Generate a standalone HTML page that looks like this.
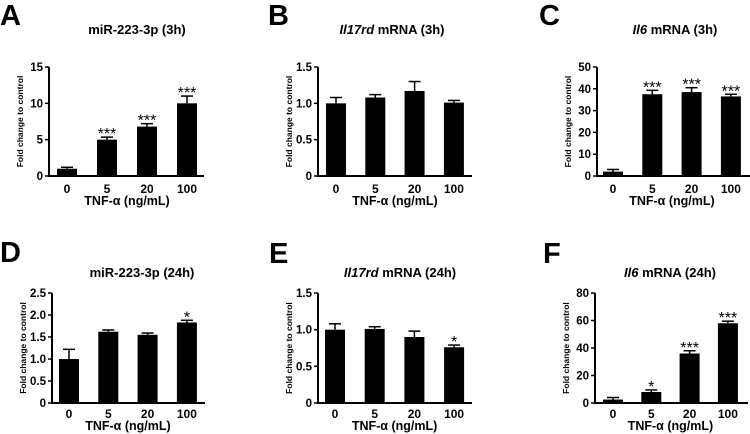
<!DOCTYPE html>
<html><head><meta charset="utf-8"><style>
html,body{margin:0;padding:0;background:#fff;}
svg{display:block;font-family:"Liberation Sans",Arial,sans-serif;}
</style></head><body>
<svg id="fig" width="750" height="434" viewBox="0 0 750 434"></svg>
<script>
const categories = ["0","5","20","100"];
const valsA = [1.0,5.0,6.8,10.0], errA=[0.2,0.35,0.4,1.0], sigA=["","***","***","***"], ticksA=[0,5,10,15];
const valsB = [1.0,1.08,1.17,1.01], errB=[0.08,0.04,0.13,0.03], sigB=["","","",""], ticksB=["0","0.5","1.0","1.5"];
const valsC = [2.0,37.5,38.5,36.5], errC=[1.0,1.8,2.0,1.0], sigC=["","***","***","***"], ticksC=[0,10,20,30,40,50];
const valsD = [1.0,1.62,1.55,1.83], errD=[0.22,0.04,0.04,0.05], sigD=["","","","*"], ticksD=["0","0.5","1.0","1.5","2.0","2.5"];
const valsE = [1.0,1.01,0.9,0.76], errE=[0.08,0.03,0.08,0.03], sigE=["","","","*"], ticksE=["0","0.5","1.0","1.5"];
const valsF = [2.5,8.0,36.0,58.0], errF=[1.5,1.5,2.0,1.5], sigF=["","*","***","***"], ticksF=[0,20,40,60,80];

const NS="http://www.w3.org/2000/svg";
const svg=document.getElementById('fig');
function mk(tag,attrs,parent,text){const e=document.createElementNS(NS,tag);for(const k in attrs)e.setAttribute(k,attrs[k]);if(text!==undefined)e.textContent=text;(parent||svg).appendChild(e);return e;}

const panels=[
 {id:"a",letter:"A",lx:0,ly:25,title:["","miR-223-3p (3h)"],tx:137,ty:34,ax:49,top:67,zero:176,right:204,c0:67,step:40,vals:valsA,err:errA,sig:sigA,ticks:ticksA,tk:193,xt:205},
 {id:"b",letter:"B",lx:268,ly:25,title:["Il17rd"," mRNA (3h)"],tx:392,ty:34,ax:318,top:67,zero:176,right:472,c0:336,step:39.3,vals:valsB,err:errB,sig:sigB,ticks:ticksB,tk:193,xt:205},
 {id:"c",letter:"C",lx:539,ly:25,title:["Il6"," mRNA (3h)"],tx:675,ty:34,ax:597,top:67,zero:176,right:750,c0:613,step:39.3,vals:valsC,err:errC,sig:sigC,ticks:ticksC,tk:193,xt:205},
 {id:"d",letter:"D",lx:0,ly:262,title:["","miR-223-3p (24h)"],tx:142,ty:277,ax:52,top:293,zero:403,right:205,c0:69,step:39.3,vals:valsD,err:errD,sig:sigD,ticks:ticksD,tk:418,xt:430},
 {id:"e",letter:"E",lx:269,ly:263,title:["Il17rd"," mRNA (24h)"],tx:400,ty:277,ax:318,top:293,zero:403,right:472,c0:335,step:39.7,vals:valsE,err:errE,sig:sigE,ticks:ticksE,tk:418,xt:430},
 {id:"f",letter:"F",lx:543,ly:263,title:["Il6"," mRNA (24h)"],tx:670,ty:277,ax:595,top:293,zero:403,right:748,c0:613,step:38.3,vals:valsF,err:errF,sig:sigF,ticks:ticksF,tk:418,xt:430}
];

panels.forEach(p=>{
  const g=mk('g',{});
  
  
  const ymax=parseFloat(p.ticks[p.ticks.length-1]);
  const y=v=>p.zero-(v/ymax)*(p.zero-p.top);
  const x=i=>p.c0+i*p.step;
  const L=mk('text',{x:p.lx,y:p.ly,'font-size':29,'font-weight':'bold'},g,p.letter);
  
  
  const T=mk('text',{x:p.tx,y:p.ty,'font-size':13,'font-weight':'bold','text-anchor':'middle'},g);
  
  
  if(p.title[0]) mk('tspan',{'font-style':'italic'},T,p.title[0]);
  mk('tspan',{},T,p.title[1]);
  p.vals.forEach((v,i)=>{
    const cx=x(i), e=p.err[i];
    const el=mk('line',{x1:cx,x2:cx,y1:y(v),y2:y(v+e),stroke:'#000','stroke-width':1.5},g);
    
    
    mk('line',{x1:cx-6,x2:cx+6,y1:y(v+e),y2:y(v+e),stroke:'#000','stroke-width':1.5},g);
    const b=mk('rect',{x:cx-10,y:y(v),width:20,height:p.zero-y(v),fill:'#000'},g);
    
    
    if(p.sig[i]){
      const s=mk('text',{x:cx,y:y(v+e)+2,'font-size':16,'text-anchor':'middle'},g,p.sig[i]);
      
      
    }
    const tl=mk('text',{x:cx,y:p.tk,'font-size':12,'font-weight':'bold','text-anchor':'middle'},g,categories[i]);
    
    
  });
  const ya=mk('line',{x1:p.ax,x2:p.ax,y1:p.top,y2:p.zero+1,stroke:'#000','stroke-width':2},g);
  
  
  const xa=mk('line',{x1:p.ax-1,x2:p.right,y1:p.zero,y2:p.zero,stroke:'#000','stroke-width':2},g);
  
  
  p.ticks.forEach(t=>{
    const ty=y(parseFloat(t));
    mk('line',{x1:p.ax-4,x2:p.ax,y1:ty,y2:ty,stroke:'#000','stroke-width':1.5},g);
    const tl=mk('text',{x:p.ax-6,y:ty+4,'font-size':11.5,'font-weight':'bold','text-anchor':'end'},g,String(t));
    
    
  });
  const yc=(p.top+p.zero)/2, yx=p.ax-26;
  const yt=mk('text',{x:yx,y:yc,'font-size':8.5,'font-weight':'bold','text-anchor':'middle',transform:`rotate(-90 ${yx} ${yc})`},g,'Fold change to control');
  
  
  const xc=(x(0)+x(3))/2;
  const xt=mk('text',{x:xc,y:p.xt,'font-size':12.5,'font-weight':'bold','text-anchor':'middle'},g,'TNF-\u03b1 (ng/mL)');
  
  
});
</script>
</body></html>
